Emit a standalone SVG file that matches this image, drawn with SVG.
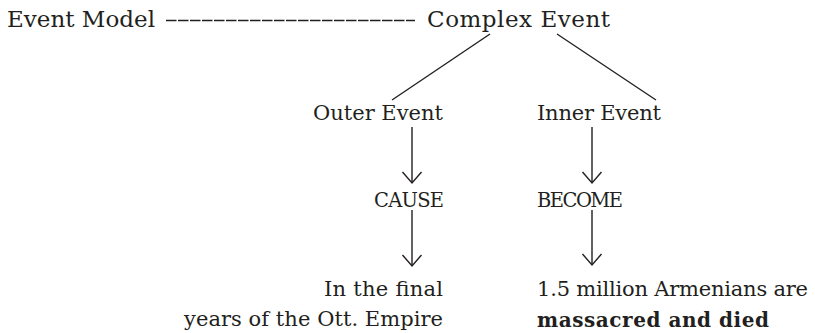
<svg xmlns="http://www.w3.org/2000/svg" width="815" height="333" viewBox="0 0 815 333">
  <style>
    text { font-family: "DejaVu Serif", "Liberation Serif", serif; fill: #231f20; }
    .big { font-size: 23px; }
    .mid { font-size: 21px; }
    .caps { font-size: 19.5px; }
    .b { font-weight: bold; font-size: 20px; }
    .conn { stroke: #231f20; stroke-width: 1.4; fill: none; }
  </style>
  <defs>
    <marker id="arr" markerUnits="userSpaceOnUse" markerWidth="14" markerHeight="22" refX="0" refY="0" orient="auto" overflow="visible">
      <path d="M -11,-9.5 L 0,0 L -11,9.5" fill="none" stroke="#231f20" stroke-width="1.4"/>
    </marker>
  </defs>
  <rect width="815" height="333" fill="#ffffff"/>
  <g id="connectors">
    <line class="conn" x1="166" y1="20.5" x2="415" y2="20.5" stroke-dasharray="10.5 1.5"/>
    <line class="conn" x1="490" y1="34" x2="392" y2="100"/>
    <line class="conn" x1="557" y1="34" x2="656" y2="100"/>
    <line class="conn" x1="412" y1="127" x2="412" y2="183" marker-end="url(#arr)"/>
    <line class="conn" x1="412" y1="210" x2="412" y2="266" marker-end="url(#arr)"/>
    <line class="conn" x1="592" y1="127" x2="592" y2="183" marker-end="url(#arr)"/>
    <line class="conn" x1="592" y1="210" x2="592" y2="265" marker-end="url(#arr)"/>
  </g>
  <g id="event-model"><text class="big" x="7" y="27" textLength="148" lengthAdjust="spacing">Event Model</text></g>
  <g id="complex-event"><text class="big" x="427" y="27" textLength="183" lengthAdjust="spacing">Complex Event</text></g>
  <g id="outer-event"><text class="mid" x="313" y="120" textLength="130" lengthAdjust="spacing">Outer Event</text></g>
  <g id="inner-event"><text class="mid" x="537" y="120" textLength="124" lengthAdjust="spacing">Inner Event</text></g>
  <g id="cause"><text class="caps" x="374" y="207" textLength="70" lengthAdjust="spacing">CAUSE</text></g>
  <g id="become"><text class="caps" x="537" y="207" textLength="86" lengthAdjust="spacing">BECOME</text></g>
  <g id="time">
    <text class="mid" x="443" y="296" text-anchor="end" textLength="119" lengthAdjust="spacing">In the final</text>
    <text class="mid" x="443" y="326" text-anchor="end" textLength="259" lengthAdjust="spacing">years of the Ott. Empire</text>
  </g>
  <g id="result">
    <text class="mid" x="537" y="296" textLength="271" lengthAdjust="spacing">1.5 million Armenians are</text>
    <text class="b" x="537" y="327" textLength="232" lengthAdjust="spacing">massacred and died</text>
  </g>
</svg>
